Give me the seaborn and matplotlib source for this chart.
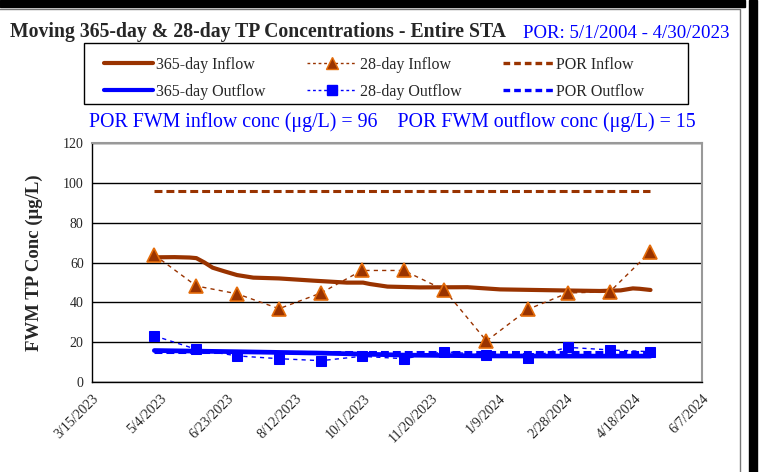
#!/usr/bin/env python3
"""Moving 365-day & 28-day TP concentrations - Entire STA."""

import matplotlib
matplotlib.use("Agg")
import matplotlib.pyplot as plt
import matplotlib.dates as mdates
import matplotlib.ticker as mticker
from matplotlib.lines import Line2D
from matplotlib.patches import Rectangle
import pandas as pd
import seaborn as sns

# ---------------------------------------------------------------------------
# Data
# ---------------------------------------------------------------------------

month_ends = [
    "2023-04-30", "2023-05-31", "2023-06-30", "2023-07-31", "2023-08-31",
    "2023-09-30", "2023-10-31", "2023-11-30", "2023-12-31", "2024-01-31",
    "2024-02-29", "2024-03-31", "2024-04-30",
]
inflow_28 = [63.8, 48.2, 44.3, 36.8, 44.7, 56.0, 56.0, 46.2, 20.6, 36.6, 44.7, 45.3, 65.4]
outflow_28 = [23.2, 16.4, 13.1, 11.7, 10.7, 12.9, 11.7, 15.2, 13.6, 12.2, 17.4, 16.1, 15.2]

inflow_365_dates = [
    "2023-04-30", "2023-05-15", "2023-05-26", "2023-05-31", "2023-06-06",
    "2023-06-12", "2023-06-21", "2023-06-30", "2023-07-12", "2023-07-31",
    "2023-08-25", "2023-09-19", "2023-10-01", "2023-10-06", "2023-10-19",
    "2023-11-12", "2023-12-17", "2024-01-10", "2024-02-23", "2024-03-24",
    "2024-04-08", "2024-04-17", "2024-04-22", "2024-04-30",
]
inflow_365 = [
    62.6, 62.7, 62.5, 62.2, 60.0, 57.4, 55.5, 53.7, 52.4, 52.0,
    50.9, 49.9, 49.9, 49.2, 47.9, 47.5, 47.6, 46.5, 46.0, 45.7,
    46.0, 47.0, 46.8, 46.2,
]

outflow_365_dates = [
    "2023-04-30", "2023-06-30", "2023-08-31", "2023-10-31",
    "2023-12-31", "2024-02-29", "2024-04-30",
]
outflow_365 = [15.8, 15.2, 14.5, 13.5, 13.1, 13.0, 13.0]

por_dates = ["2023-04-30", "2024-04-30"]
por_inflow = [96, 96]
por_outflow = [15, 15]

x_start, x_end = "2023-03-15", "2024-06-07"

BROWN = "#993300"
ORANGE = "#E46C0A"
BLUE = "#0000FF"

df28 = pd.DataFrame({"date": pd.to_datetime(month_ends),
                     "inflow": inflow_28, "outflow": outflow_28})
df365_in = pd.DataFrame({"date": pd.to_datetime(inflow_365_dates), "value": inflow_365})
df365_out = pd.DataFrame({"date": pd.to_datetime(outflow_365_dates), "value": outflow_365})
dfpor = pd.DataFrame({"date": pd.to_datetime(por_dates),
                      "inflow": por_inflow, "outflow": por_outflow})

# ---------------------------------------------------------------------------
# Theme
# ---------------------------------------------------------------------------

sns.set_style("white")
plt.rcParams["font.family"] = ["Liberation Serif", "DejaVu Serif"]

fig = plt.figure(figsize=(7.6, 4.72), dpi=100)
ax = fig.add_axes([0.121, 0.1907, 0.8027, 0.5063])

# ---------------------------------------------------------------------------
# Series
# ---------------------------------------------------------------------------

POR_DASH = (0, (2.6, 1.3))
sns.lineplot(data=dfpor, x="date", y="inflow", ax=ax, color=BROWN,
             lw=2.2, linestyle=POR_DASH)
sns.lineplot(data=dfpor, x="date", y="outflow", ax=ax, color=BLUE,
             lw=2.2, linestyle=POR_DASH)
sns.lineplot(data=df365_out, x="date", y="value", ax=ax, color=BLUE, lw=3.4)
sns.lineplot(data=df365_in, x="date", y="value", ax=ax, color=BROWN, lw=3.0)
sns.lineplot(data=df28, x="date", y="inflow", ax=ax, color=BROWN, lw=1.0,
             linestyle=(0, (3, 3)), marker="^", markersize=10,
             markerfacecolor=BROWN, markeredgecolor=ORANGE, markeredgewidth=1.2)
sns.lineplot(data=df28, x="date", y="outflow", ax=ax, color=BLUE, lw=1.0,
             linestyle=(0, (3, 3)), marker="s", markersize=7.5,
             markerfacecolor=BLUE, markeredgecolor=BLUE)

# ---------------------------------------------------------------------------
# Axes
# ---------------------------------------------------------------------------

t0, t1 = pd.Timestamp(x_start), pd.Timestamp(x_end)
ax.set_xlim(t0, t1)
ax.set_ylim(0, 120)
ax.yaxis.set_major_locator(mticker.MultipleLocator(20))
ticks = pd.date_range(t0, t1, freq="50D")
ax.set_xticks(ticks)
ax.xaxis.set_major_formatter(mticker.FuncFormatter(
    lambda v, _: (lambda d: f"{d.month}/{d.day}/{d.year}")(mdates.num2date(v))))
plt.setp(ax.get_xticklabels(), rotation=45, ha="right", rotation_mode="anchor")
ax.tick_params(axis="both", labelsize=10, direction="out", length=4,
               width=1, color="black", pad=2)
ax.tick_params(axis="x", pad=3)
ax.grid(axis="y", color="black", lw=1)
ax.grid(axis="x", visible=False)
ax.set_axisbelow(True)
ax.set_xlabel("")
ax.set_ylabel("FWM TP Conc (μg/L)", fontsize=13.5, fontweight="bold", labelpad=14)

for side in ["top", "right"]:
    ax.spines[side].set_color("#999999")
    ax.spines[side].set_linewidth(1.5)
for side in ["left", "bottom"]:
    ax.spines[side].set_color("black")
    ax.spines[side].set_linewidth(1)

# ---------------------------------------------------------------------------
# Legend and text
# ---------------------------------------------------------------------------

handles = [
    Line2D([], [], color=BROWN, lw=3),
    Line2D([], [], color=BLUE, lw=3),
    Line2D([], [], color=BROWN, lw=1, linestyle=(0, (2, 2)), marker="^",
           markersize=8, markerfacecolor=BROWN, markeredgecolor=ORANGE),
    Line2D([], [], color=BLUE, lw=1, linestyle=(0, (2, 2)), marker="s",
           markersize=6.5, markerfacecolor=BLUE, markeredgecolor=BLUE),
    Line2D([], [], color=BROWN, lw=2.4, linestyle=(0, (2, 1.2))),
    Line2D([], [], color=BLUE, lw=2.4, linestyle=(0, (2, 1.2))),
]
labels = ["365-day Inflow", "365-day Outflow", "28-day Inflow",
          "28-day Outflow", "POR Inflow", "POR Outflow"]
leg = fig.legend(handles, labels, ncol=3, loc="center",
                 bbox_to_anchor=(0.492, 0.834), fontsize=11.5,
                 frameon=False, handlelength=3.1, columnspacing=2.6,
                 handletextpad=0.2, labelspacing=0.7, borderpad=0.5)

fig.text(0.013, 0.932, "Moving 365-day & 28-day TP Concentrations - Entire STA",
         fontsize=14.2, fontweight="bold", ha="left", va="center")
fig.text(0.688, 0.930, "POR: 5/1/2004 - 4/30/2023", fontsize=13.6,
         color=BLUE, ha="left", va="center")
fig.text(0.516, 0.742,
         "POR FWM inflow conc (μg/L) = 96    POR FWM outflow conc (μg/L) = 15",
         fontsize=14.3, color=BLUE, ha="center", va="center")

# legend box and frame decorations of the original report page
fig.patches.extend([
    Rectangle((84 / 760, 1 - 104 / 472), 604 / 760, 61 / 472,
              transform=fig.transFigure, fill=False, edgecolor="black",
              lw=1, zorder=1),
    Rectangle((0, 1 - 7 / 472), 745 / 760, 7 / 472, transform=fig.transFigure,
              color="black", zorder=0),
    Rectangle((226 / 760, 1 - 6 / 472), 2 / 760, 6 / 472, transform=fig.transFigure,
              color="black", zorder=0),
    Rectangle((749 / 760, 0), 8 / 760, 1, transform=fig.transFigure,
              color="black", zorder=0),
    Rectangle((-0.01, -0.01), 740 / 760 + 0.01, 1 - 9 / 472 + 0.01,
              transform=fig.transFigure, fill=False, edgecolor="#777777",
              lw=1, zorder=0),
])

fig.savefig("out.png", dpi=100)
